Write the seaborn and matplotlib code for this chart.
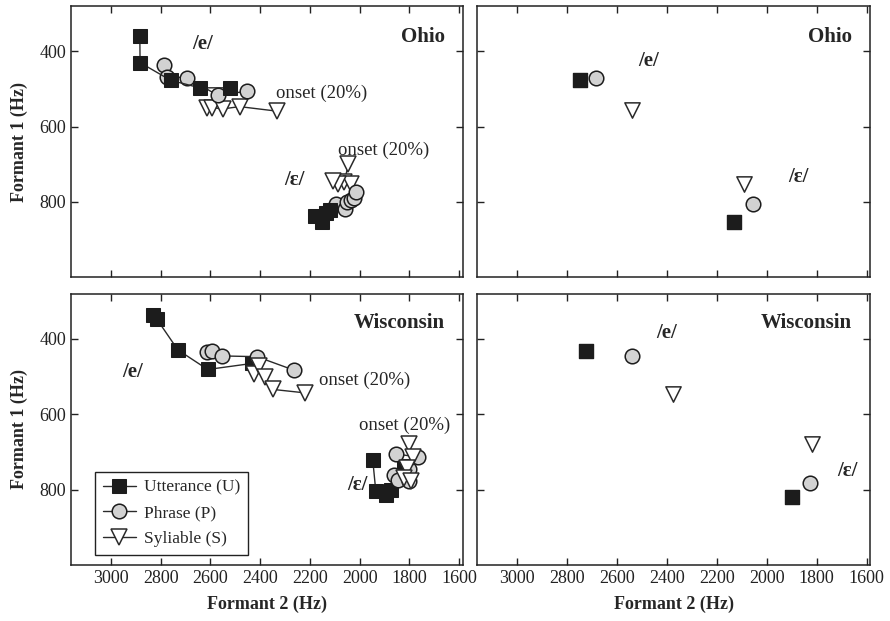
"""
Formant plots: /e/ and /ɛ/ trajectories, Ohio vs Wisconsin
"""

import matplotlib
matplotlib.use("Agg")
import matplotlib.pyplot as plt
import seaborn as sns

# ===================== Data =====================
# Left panels: trajectories (F2, F1) per prosodic position
OH_E_U_F2 = [2884, 2883, 2760, 2643, 2523]
OH_E_U_F1 = [360, 430, 477, 497, 497]
OH_E_P_F2 = [2787, 2773, 2693, 2571, 2453]
OH_E_P_F1 = [436, 468, 470, 517, 506]
OH_E_S_F2 = [2613, 2593, 2549, 2483, 2333]
OH_E_S_F1 = [550, 550, 553, 547, 559]

OH_EH_U_F2 = [2178, 2150, 2135, 2118]
OH_EH_U_F1 = [837, 853, 830, 822]
OH_EH_P_F2 = [2095, 2058, 2052, 2035, 2022, 2013]
OH_EH_P_F1 = [806, 820, 800, 795, 790, 774]
OH_EH_S_F2 = [2045, 2062, 2033, 2088, 2106]
OH_EH_S_F1 = [700, 748, 752, 752, 746]

WI_E_U_F2 = [2833, 2816, 2731, 2611, 2433]
WI_E_U_F1 = [336, 347, 429, 481, 465]
WI_E_P_F2 = [2613, 2593, 2553, 2413, 2263]
WI_E_P_F1 = [434, 431, 445, 447, 483]
WI_E_S_F2 = [2424, 2403, 2380, 2347, 2220]
WI_E_S_F1 = [493, 473, 500, 534, 543]

WI_EH_U_F2 = [1947, 1935, 1895, 1875, 1822]
WI_EH_U_F1 = [722, 803, 815, 800, 736]
WI_EH_P_F2 = [1855, 1767, 1800, 1860, 1845, 1800]
WI_EH_P_F1 = [705, 713, 745, 760, 775, 778]
WI_EH_S_F2 = [1800, 1787, 1810, 1820, 1795]
WI_EH_S_F1 = [678, 713, 742, 768, 778]

# Right panels: means (/e/, /ɛ/)
OH_MEAN_U_F2 = [2747, 2133]
OH_MEAN_U_F1 = [477, 854]
OH_MEAN_P_F2 = [2684, 2056]
OH_MEAN_P_F1 = [471, 805]
OH_MEAN_S_F2 = [2540, 2093]
OH_MEAN_S_F1 = [555, 753]

WI_MEAN_U_F2 = [2723, 1897]
WI_MEAN_U_F1 = [431, 818]
WI_MEAN_P_F2 = [2540, 1827]
WI_MEAN_P_F1 = [445, 782]
WI_MEAN_S_F2 = [2375, 1817]
WI_MEAN_S_F1 = [545, 678]

LEGEND_LABELS = ["Utterance (U)", "Phrase (P)", "Syliable (S)"]
X_TICKS = [3000, 2800, 2600, 2400, 2200, 2000, 1800, 1600]
Y_TICKS = [400, 600, 800]

# ===================== Style =====================
sns.set_style("ticks")
plt.rcParams['font.family'] = ['Liberation Serif', 'DejaVu Serif']

STYLES = {
    "U": dict(marker="s", markersize=10, markerfacecolor="#1c1c1c",
              markeredgecolor="#1c1c1c"),
    "P": dict(marker="o", markersize=10.5, markerfacecolor="#d2d2d2",
              markeredgecolor="#1c1c1c", markeredgewidth=1.1),
    "S": dict(marker="v", markersize=11, markerfacecolor="white",
              markeredgecolor="#2a2a2a", markeredgewidth=1.1),
}


def draw_track(ax, f2, f1, kind, label=None):
    sns.lineplot(x=f2, y=f1, sort=False, estimator=None, ax=ax,
                 color="#2a2a2a", linewidth=1.0, legend=False,
                 label=label, **STYLES[kind])


def draw_means(ax, f2, f1, kind):
    st = STYLES[kind]
    sns.scatterplot(x=f2, y=f1, ax=ax, marker=st["marker"],
                    s=st["markersize"] ** 2, color=st["markerfacecolor"],
                    edgecolor=st["markeredgecolor"],
                    linewidth=st.get("markeredgewidth", 1.0), legend=False)


def style_axes(ax, show_x, show_y):
    ax.set_xlim(3160, 1585)
    ax.set_ylim(1000, 280)
    ax.set_xticks(X_TICKS)
    ax.set_yticks(Y_TICKS)
    ax.tick_params(direction="in", top=True, right=True, length=5, width=1,
                   labelsize=13, labelbottom=show_x, labelleft=show_y,
                   colors="#222222")
    for sp in ax.spines.values():
        sp.set_linewidth(1.1)
        sp.set_color("#222222")
    ax.set_xlabel("Formant 2 (Hz)" if show_x else "", fontsize=13,
                  fontweight="bold", labelpad=6)
    ax.set_ylabel("Formant 1 (Hz)" if show_y else "", fontsize=13,
                  fontweight="bold", labelpad=8)


fig = plt.figure(figsize=(8.9, 6.21), dpi=100)
ax_tl = fig.add_axes([0.080, 0.554, 0.440, 0.436])
ax_tr = fig.add_axes([0.536, 0.554, 0.442, 0.436])
ax_bl = fig.add_axes([0.080, 0.090, 0.440, 0.437])
ax_br = fig.add_axes([0.536, 0.090, 0.442, 0.437])

LAB = dict(fontsize=15, fontweight="bold", ha="center", va="center")
ONSET = dict(fontsize=13.5, ha="center", va="center")
TITLE = dict(fontsize=15, fontweight="bold", ha="right", va="center")

# ---- Ohio trajectories ----
draw_track(ax_tl, OH_E_S_F2, OH_E_S_F1, "S")
draw_track(ax_tl, OH_E_P_F2, OH_E_P_F1, "P")
draw_track(ax_tl, OH_E_U_F2, OH_E_U_F1, "U")
draw_track(ax_tl, OH_EH_S_F2, OH_EH_S_F1, "S")
draw_track(ax_tl, OH_EH_P_F2, OH_EH_P_F1, "P")
draw_track(ax_tl, OH_EH_U_F2, OH_EH_U_F1, "U")
ax_tl.text(2632, 381, "/e/", **LAB)
ax_tl.text(2264, 741, "/ɛ/", **LAB)
ax_tl.text(2152, 512, "onset (20%)", **ONSET)
ax_tl.text(1904, 664, "onset (20%)", **ONSET)
ax_tl.text(1658, 362, "Ohio", **TITLE)
style_axes(ax_tl, False, True)

# ---- Ohio means ----
draw_means(ax_tr, OH_MEAN_U_F2, OH_MEAN_U_F1, "U")
draw_means(ax_tr, OH_MEAN_P_F2, OH_MEAN_P_F1, "P")
draw_means(ax_tr, OH_MEAN_S_F2, OH_MEAN_S_F1, "S")
ax_tr.text(2473, 426, "/e/", **LAB)
ax_tr.text(1873, 734, "/ɛ/", **LAB)
ax_tr.text(1658, 362, "Ohio", **TITLE)
style_axes(ax_tr, False, False)

# ---- Wisconsin trajectories ----
draw_track(ax_bl, WI_E_U_F2, WI_E_U_F1, "U", LEGEND_LABELS[0])
draw_track(ax_bl, WI_E_P_F2, WI_E_P_F1, "P", LEGEND_LABELS[1])
draw_track(ax_bl, WI_E_S_F2, WI_E_S_F1, "S", LEGEND_LABELS[2])
draw_track(ax_bl, WI_EH_U_F2, WI_EH_U_F1, "U")
draw_track(ax_bl, WI_EH_P_F2, WI_EH_P_F1, "P")
draw_track(ax_bl, WI_EH_S_F2, WI_EH_S_F1, "S")
ax_bl.text(2912, 488, "/e/", **LAB)
ax_bl.text(2008, 787, "/ɛ/", **LAB)
ax_bl.text(1980, 509, "onset (20%)", **ONSET)
ax_bl.text(1820, 629, "onset (20%)", **ONSET)
ax_bl.text(1658, 357, "Wisconsin", **TITLE)
style_axes(ax_bl, True, True)
handles, labels = ax_bl.get_legend_handles_labels()
leg = ax_bl.legend(handles, labels, loc="lower left",
                   bbox_to_anchor=(0.061, 0.037), borderaxespad=0,
                   fontsize=12.5, frameon=True, fancybox=False, framealpha=1,
                   edgecolor="#222222", handlelength=1.9,
                   borderpad=0.45, labelspacing=0.55, handletextpad=0.45)
leg.get_frame().set_linewidth(1.0)

# ---- Wisconsin means ----
draw_means(ax_br, WI_MEAN_U_F2, WI_MEAN_U_F1, "U")
draw_means(ax_br, WI_MEAN_P_F2, WI_MEAN_P_F1, "P")
draw_means(ax_br, WI_MEAN_S_F2, WI_MEAN_S_F1, "S")
ax_br.text(2400, 383, "/e/", **LAB)
ax_br.text(1676, 749, "/ɛ/", **LAB)
ax_br.text(1658, 357, "Wisconsin", **TITLE)
style_axes(ax_br, True, False)

fig.savefig("out.png", dpi=100)
